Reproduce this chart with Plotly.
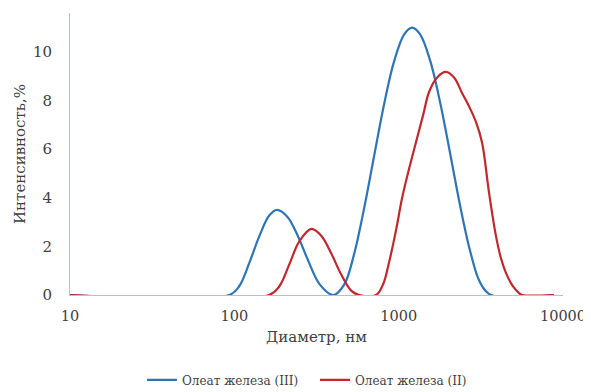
import plotly.graph_objects as go

# Diameter (nm) and intensity (%)
d_fe3 = [10, 93, 107, 123, 142, 163, 182, 210, 242, 278, 329, 400,
         467, 536, 616, 709, 816, 939, 1080, 1208, 1351, 1553, 1787, 2056, 2366, 2722,
         3128, 3650, 8800]
i_fe3 = [0, 0, 0.36, 1.3, 2.42, 3.27, 3.5, 3.22, 2.47, 1.5, 0.46, 0,
         0.44, 1.69, 3.56, 5.72, 7.86, 9.62, 10.72, 11.0, 10.72, 9.65, 7.93, 5.83, 3.67, 1.81,
         0.52, 0, 0]

d_fe2 = [10, 163, 188, 216, 248, 294, 338, 389, 447, 514, 575,
         729, 805, 875, 966, 1050, 1158, 1277, 1408, 1531, 1714, 1938, 2173, 2434, 2685,
         2960, 3221, 3548, 3915, 4198, 4500, 4966, 5400, 5640, 8800]
i_fe2 = [0, 0, 0.36, 1.26, 2.2, 2.72, 2.44, 1.71, 0.84, 0.18, 0,
         0, 0.45, 1.36, 2.7, 4.0, 5.2, 6.3, 7.4, 8.35, 8.95, 9.18, 8.95, 8.3, 7.75,
         7.1, 6.25, 4.2, 2.4, 1.5, 0.9, 0.35, 0.08, 0, 0]

name_fe3 = "Олеат железа (III)"
name_fe2 = "Олеат железа (II)"
x_ticks = [10, 100, 1000, 10000]
y_ticks = [0, 2, 4, 6, 8, 10]

FONT = "DejaVu Serif"
TXT = "#404040"

fig = go.Figure()
fig.add_trace(go.Scatter(x=d_fe3, y=i_fe3, mode="lines", name=name_fe3,
                         line=dict(color="#2E75B6", width=2.2, shape="spline", smoothing=1.0)))
fig.add_trace(go.Scatter(x=d_fe2, y=i_fe2, mode="lines", name=name_fe2,
                         line=dict(color="#C0282D", width=2.2, shape="spline", smoothing=1.0)))

fig.update_layout(
    width=583, height=384,
    margin=dict(l=62, r=28, t=5, b=97, autoexpand=False),
    paper_bgcolor="white", plot_bgcolor="white",
    font=dict(family=FONT, color=TXT),
    showlegend=True,
    legend=dict(orientation="h", x=0.146, xanchor="left", y=-0.301, yanchor="middle",
                font=dict(size=12, color=TXT), itemwidth=30, traceorder="normal",
                entrywidth=128, entrywidthmode="pixels"),
)
fig.update_xaxes(type="log", range=[1, 4], tickvals=x_ticks, ticktext=[str(v) for v in x_ticks],
                 showgrid=False, zeroline=False, showline=True, linecolor="#B8C0C8", linewidth=1,
                 ticks="", ticklabelstandoff=8, tickfont=dict(size=14.5, color=TXT), automargin=False,
                 title=dict(text="Диаметр, нм", font=dict(size=15, color=TXT), standoff=8))
fig.update_yaxes(range=[0, 11.6], tickvals=y_ticks, showgrid=False, zeroline=False,
                 showline=True, linecolor="#B8C0C8", linewidth=1, ticks="", automargin=False,
                 ticklabelstandoff=14, tickfont=dict(size=15, color=TXT),
                 title=dict(text="Интенсивность,%", font=dict(size=15, color=TXT), standoff=3))

fig.write_html("out.html")
